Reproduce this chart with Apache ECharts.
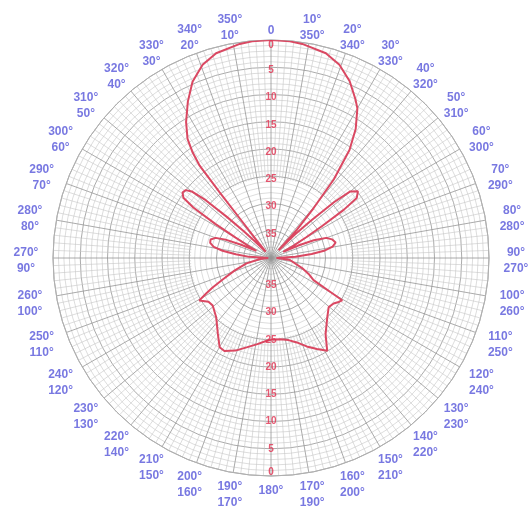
<!DOCTYPE html>
<html>
<head>
<meta charset="utf-8">
<script src="https://cdn.jsdelivr.net/npm/echarts@6/dist/echarts.min.js"></script>
<style>
  html, body { margin: 0; padding: 0; background: #ffffff; }
  #chart { width: 528px; height: 516px; }
</style>
</head>
<body>
<div id="chart"></div>
<script>
// Antenna radiation pattern: bearing (deg, clockwise from 0 at top) and level in dB below the peak.
const bearings = [
  0, 5, 8.3, 15, 19.5, 24, 28, 30, 33.3, 36, 38.6, 40.5, 42.5, 44,
  45.5, 47, 48.5, 50, 52.5, 55, 56.5, 58, 59.5, 61.5, 63.5,
  65.5, 67.5, 70, 73, 76.5, 79.5, 82, 84.5, 87, 90,
  92, 96, 101, 108, 113, 117.5, 119.5, 120.7, 123, 126, 130.4, 136.5, 140.5,
  144.4, 148.8, 153.2, 158, 163, 168, 173.6, 180, 183, 189, 195.3, 201,
  206.6, 209.9, 215, 222.8, 230.8, 235, 239.4, 241.4, 243.2, 246, 250.9,
  257.7, 265, 270,
  273, 276, 278.5, 281, 284, 287, 290, 292, 294, 296,
  298, 300, 301.5, 303, 304.5, 306.5, 308.5, 310, 311.5, 313, 314.5, 316,
  318, 320, 321, 321.7, 322, 322.3, 323.4, 325, 328, 332, 336, 340.5, 345, 351.7, 355, 360
];
const levelsDb = [
  0, 0.1, 0.3, 1.1, 2.4, 4.5, 7, 8.3, 11.7, 15.5, 21.5, 28, 33, 38,
  34, 30, 24.5, 21, 19.9, 20.8, 24, 29, 32.5, 35.5, 37.5,
  34.5, 31.5, 29.2, 28.3, 27.8, 28.5, 30, 32.5, 35.5, 39,
  38.5, 36.5, 36.4, 34, 32.5, 31.2, 28, 24.8, 25.2, 25.8, 26.1, 25, 24,
  22.8, 20.1, 21.3, 22.5, 23.8, 24.6, 25, 25, 24.8, 24, 23, 21.8,
  20.9, 21.1, 23, 25.2, 26.2, 26, 24.7, 26.5, 28, 30.3, 32.9,
  35.4, 38, 39.5,
  36, 33.5, 31, 29.3, 28.5, 28.4, 29.2, 31, 34, 37,
  35.5, 32.5, 28, 23, 20.5, 19.8, 20, 21, 24, 29, 33, 36,
  38, 38.5, 36, 31, 24.7, 18.6, 15.9, 13.3, 10.6, 7.5, 4.6, 2.4, 1.1, 0.3, 0.1, 0
];
// dB scale printed along the vertical diameter (top and bottom halves)
const dbTicks = [0, 5, 10, 15, 20, 25, 30, 35];
// Bearing ticks round the rim; each carries its clockwise and anticlockwise reading
const bearingTicks = [0, 10, 20, 30, 40, 50, 60, 70, 80, 90, 100, 110, 120, 130, 140, 150, 160, 170,
  180, 190, 200, 210, 220, 230, 240, 250, 260, 270, 280, 290, 300, 310, 320, 330, 340, 350];
const DB_SPAN = 40;

const CX = 271, CY = 258, R = 218;
const pxToDb = px => px * DB_SPAN / R;

const chart = echarts.init(document.getElementById('chart'), null, { renderer: 'canvas' });

const patternData = bearings.map((b, i) => [DB_SPAN - levelsDb[i], b]);

const tickMarks = [];
dbTicks.forEach(t => {
  tickMarks.push({ name: String(t), value: [DB_SPAN - t, 0],
    label: { offset: [0, t === 0 ? 5 : 3] } });
  tickMarks.push({ name: String(t), value: [DB_SPAN - t, 180],
    label: { offset: [0, t === 0 ? -4 : 0] } });
});

// Rim labels sit on a ring a little wider at the sides than at top and bottom
const bearingText = b => (b === 0 ? '0' : b === 180 ? '180°' : b + '°\n' + (360 - b) + '°');
const rimLabels = bearingTicks.map(b => {
  const s = Math.sin(b * Math.PI / 180);
  const single = (b === 0 || b === 180);
  const ringPx = 237 + 8 * s * s - (single ? 7 : 0);
  return { name: bearingText(b), value: [pxToDb(ringPx), b] };
});

const gridGrey = '#969696';
const fineGrey = '#c6c6c6';
const labelBlue = '#5656da';
const traceRed = '#da4862';

chart.setOption({
  backgroundColor: '#ffffff',
  animation: false,
  polar: [
    { center: [CX, CY], radius: R },
    { center: [CX, CY], radius: [80, R] }
  ],
  angleAxis: [
    {
      polarIndex: 0,
      type: 'value', min: 0, max: 360, interval: 10,
      startAngle: 90, clockwise: true,
      axisLine: { show: true, lineStyle: { color: '#b0b0b0', width: 1 } },
      axisTick: { show: false },
      axisLabel: { show: false },
      splitLine: { show: true, lineStyle: { color: gridGrey, width: 0.8 } }
    },
    {
      polarIndex: 1,
      type: 'value', min: 0, max: 360, interval: 10,
      startAngle: 90, clockwise: true,
      axisLine: { show: false }, axisTick: { show: false }, axisLabel: { show: false },
      splitLine: { show: false },
      minorTick: { show: false, splitNumber: 5 },
      minorSplitLine: { show: true, lineStyle: { color: fineGrey, width: 0.6 } }
    }
  ],
  radiusAxis: [
    {
      polarIndex: 0,
      type: 'value', min: 0, max: DB_SPAN, interval: 5,
      axisLine: { show: false }, axisTick: { show: false }, axisLabel: { show: false },
      splitLine: { show: true, lineStyle: { color: gridGrey, width: 0.8 } },
      minorTick: { show: false, splitNumber: 5 },
      minorSplitLine: { show: true, lineStyle: { color: fineGrey, width: 0.6 } }
    },
    {
      polarIndex: 1,
      type: 'value', min: 0, max: DB_SPAN, show: false
    }
  ],
  series: [
    {
      type: 'line',
      coordinateSystem: 'polar',
      polarIndex: 0,
      data: patternData,
      symbol: 'none',
      smooth: false,
      lineStyle: { color: traceRed, width: 2 },
      z: 5
    },
    {
      type: 'scatter',
      coordinateSystem: 'polar',
      polarIndex: 0,
      data: tickMarks,
      symbolSize: 1,
      itemStyle: { color: 'rgba(0,0,0,0)' },
      label: {
        show: true, position: 'inside',
        formatter: p => p.name,
        color: '#e0304f', fontSize: 10, fontWeight: 'bold',
        fontFamily: 'Liberation Sans'
      },
      z: 6
    },
    {
      type: 'scatter',
      coordinateSystem: 'polar',
      polarIndex: 0,
      clip: false,
      data: rimLabels,
      symbolSize: 1,
      itemStyle: { color: 'rgba(0,0,0,0)' },
      label: {
        show: true, position: 'inside', offset: [0, 3],
        align: 'center', verticalAlign: 'middle',
        formatter: p => p.name,
        color: labelBlue, fontSize: 12, fontWeight: 'bold',
        fontFamily: 'Liberation Sans', lineHeight: 16
      },
      z: 6
    }
  ]
});
</script>
</body>
</html>
